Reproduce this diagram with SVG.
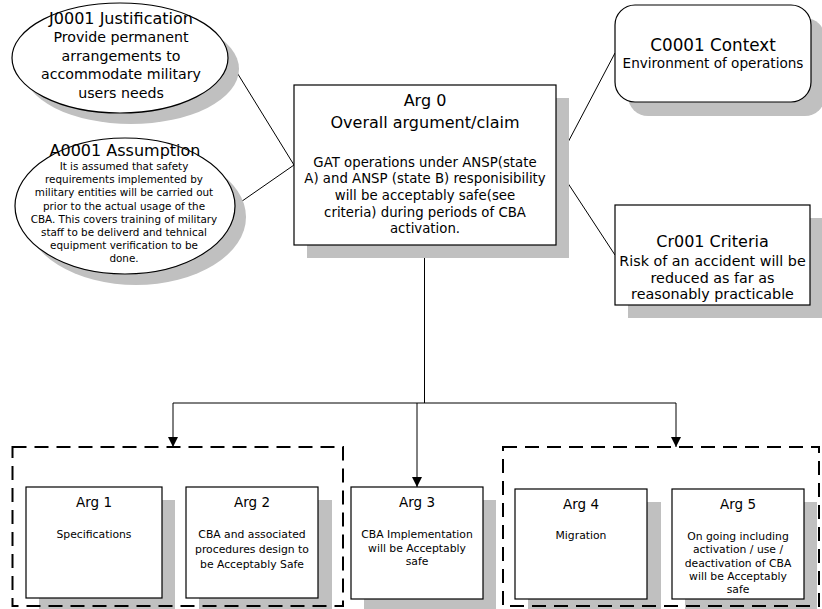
<svg xmlns="http://www.w3.org/2000/svg" width="822" height="609" viewBox="0 0 822 609">
<style>
text{font-family:"DejaVu Sans","Liberation Sans",sans-serif;fill:#000;text-anchor:middle}
.sh{fill:#c0c0c0;stroke:none}
.nd{fill:#fff;stroke:#000;stroke-width:1.2}
.t16{font-size:16px}
.jb{font-size:14.2px}
.ab{font-size:10.4px}
.ob{font-size:13.3px}
.cb{font-size:13.6px}
.rb{font-size:14.3px}
.at{font-size:13.5px}
.abx{font-size:10.8px}
.ln{fill:none;stroke:#000;stroke-width:1}
.dash{fill:none;stroke:#000;stroke-width:2;stroke-dasharray:14 8}
</style>
<defs>
<marker id="ah" viewBox="0 0 10 10" refX="10" refY="5" markerWidth="10" markerHeight="12" markerUnits="userSpaceOnUse" orient="auto">
<path d="M0,0 L10,5 L0,10 Z" fill="#000"/>
</marker>
</defs>

<g id="connectors">
<path class="ln" d="M228,58 L294,165"/>
<path class="ln" d="M235,206 L294,165"/>
<path class="ln" d="M556,165 L615,53"/>
<path class="ln" d="M556,165 L615,255"/>
<path class="ln" d="M424.5,245 L424.5,403"/>
<path class="ln" d="M173,403 L676,403"/>
<path class="ln" d="M173,403 L173,447" marker-end="url(#ah)"/>
<path class="ln" d="M417,403 L417,487" marker-end="url(#ah)"/>
<path class="ln" d="M676,403 L676,447" marker-end="url(#ah)"/>
</g>

<g id="J0001">
<ellipse class="sh" cx="131" cy="69" rx="108" ry="55"/>
<ellipse class="nd" cx="120" cy="58" rx="108" ry="55"/>
<text class="t16" x="121" y="24">J0001 Justification</text>
<text class="jb" x="121" y="42">Provide permanent</text>
<text class="jb" x="121" y="60.5">arrangements to</text>
<text class="jb" x="121" y="79">accommodate military</text>
<text class="jb" x="121" y="97.5">users needs</text>
</g>

<g id="A0001">
<ellipse class="sh" cx="136" cy="217" rx="110" ry="68"/>
<ellipse class="nd" cx="125" cy="206" rx="110" ry="68"/>
<text class="t16" x="125" y="156">A0001 Assumption</text>
<text class="ab" x="124" y="170">It is assumed that safety</text>
<text class="ab" x="124" y="183.2">requirements  implemented by</text>
<text class="ab" x="124" y="196.4">military entities will be carried out</text>
<text class="ab" x="124" y="209.6">prior to the actual usage of the</text>
<text class="ab" x="124" y="222.8">CBA. This covers training of military</text>
<text class="ab" x="124" y="236">staff to be deliverd and tehnical</text>
<text class="ab" x="124" y="249.2">equipment verification to be</text>
<text class="ab" x="124" y="262.4">done.</text>
</g>

<g id="Arg0">
<rect class="sh" x="307" y="98" width="262" height="160"/>
<rect class="nd" x="294" y="85" width="262" height="160"/>
<text class="t16" x="425" y="106">Arg 0</text>
<text class="t16" x="425" y="128">Overall argument/claim</text>
<text class="ob" x="425" y="166.5">GAT operations under ANSP(state</text>
<text class="ob" x="425" y="183">A) and ANSP (state B) responisibility</text>
<text class="ob" x="425" y="200">will be acceptably safe(see</text>
<text class="ob" x="425" y="216.5">criteria) during periods of CBA</text>
<text class="ob" x="425" y="233">activation.</text>
</g>

<g id="C0001">
<rect class="sh" x="628" y="18" width="197" height="98" rx="20"/>
<rect class="nd" x="615" y="5" width="196" height="97" rx="20"/>
<text class="t16" x="713" y="51" style="font-size:16.8px">C0001 Context</text>
<text class="cb" x="713" y="68">Environment of operations</text>
</g>

<g id="Cr001">
<rect class="sh" x="628" y="218" width="195" height="100"/>
<rect class="nd" x="615" y="205" width="195" height="100"/>
<text class="t16" x="712.5" y="247">Cr001 Criteria</text>
<text class="rb" x="712.5" y="266">Risk of an accident will be</text>
<text class="rb" x="712.5" y="283">reduced as far as</text>
<text class="rb" x="712.5" y="299">reasonably practicable</text>
</g>

<g id="Arg1">
<rect class="sh" x="39" y="500" width="136" height="112"/>
<rect class="nd" x="26" y="487" width="136" height="111"/>
<text class="at" x="94" y="507">Arg 1</text>
<text class="abx" x="94" y="538">Specifications</text>
</g>

<g id="Arg2">
<rect class="sh" x="199" y="500" width="133" height="112"/>
<rect class="nd" x="186" y="487" width="132" height="111"/>
<text class="at" x="252" y="507">Arg 2</text>
<text class="abx" x="252" y="538">CBA and associated</text>
<text class="abx" x="252" y="553">procedures design to</text>
<text class="abx" x="252" y="568">be Acceptably Safe</text>
</g>

<g id="Arg3">
<rect class="sh" x="364" y="500" width="132" height="112"/>
<rect class="nd" x="351" y="487" width="132" height="112"/>
<text class="at" x="417" y="507">Arg 3</text>
<text class="abx" x="417" y="538">CBA Implementation</text>
<text class="abx" x="417" y="552">will be Acceptably</text>
<text class="abx" x="417" y="565">safe</text>
</g>

<g id="Arg4">
<rect class="sh" x="528" y="502" width="133" height="110"/>
<rect class="nd" x="515" y="489" width="132" height="110"/>
<text class="at" x="581" y="509">Arg 4</text>
<text class="abx" x="581" y="539">Migration</text>
</g>

<g id="Arg5">
<rect class="sh" x="685" y="502" width="132" height="110"/>
<rect class="nd" x="672" y="489" width="132" height="110"/>
<text class="at" x="738" y="509">Arg 5</text>
<text class="abx" x="738" y="540">On going including</text>
<text class="abx" x="738" y="553">activation / use /</text>
<text class="abx" x="738" y="567">deactivation of CBA</text>
<text class="abx" x="738" y="580">will be Acceptably</text>
<text class="abx" x="738" y="593">safe</text>
</g>

<g id="group-left">
<rect class="dash" x="12.5" y="447" width="330.5" height="159"/>
</g>
<g id="group-right">
<rect class="dash" x="503" y="447" width="316" height="159"/>
</g>
</svg>
